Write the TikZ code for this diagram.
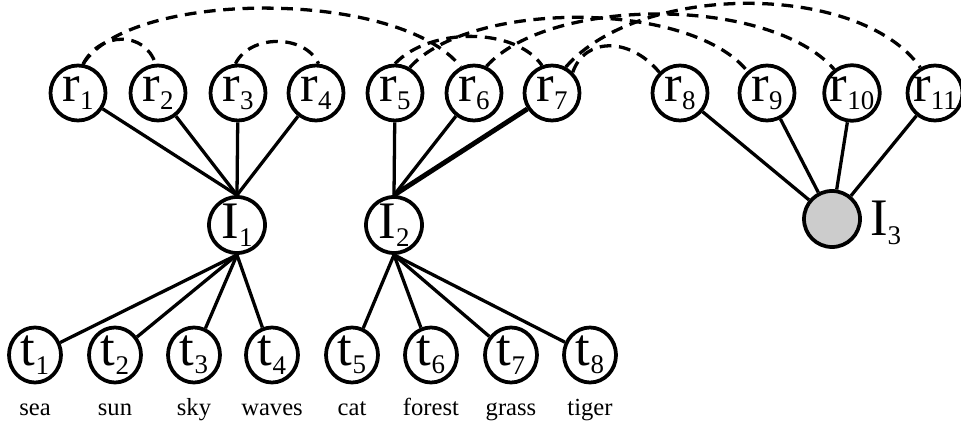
\documentclass[tikz,border=0pt]{standalone}
\usepackage{fontspec}
\setmainfont{Liberation Serif}
\usetikzlibrary{shapes.geometric}
\newcommand\nlab[2]{#1\raisebox{-0.16em}{\fontsize{23}{23}\selectfont #2}}
\begin{document}
\begin{tikzpicture}[x=0.03cm,y=-0.03cm,
  every node/.style={inner sep=0pt},
  rnode/.style={circle,draw,line width=3.2pt,minimum size=55*0.03cm,font=\fontsize{45}{45}\selectfont},
  tnode/.style={ellipse,draw,line width=3.2pt,minimum width=52*0.03cm,minimum height=55*0.03cm,font=\fontsize{45}{45}\selectfont},
  inode/.style={circle,draw,line width=3.2pt,minimum size=56*0.03cm,font=\fontsize{45}{45}\selectfont},
  word/.style={anchor=base,font=\fontsize{21}{21}\selectfont},
  edge/.style={line width=2.8pt},
  link/.style={line width=2.8pt,dash pattern=on 10pt off 6.5pt}]
\useasboundingbox (0,0) rectangle (961,430);
% r nodes
\node[rnode] (r1) at (78,93) {\nlab{r}{1}};
\node[rnode] (r2) at (158,93) {\nlab{r}{2}};
\node[rnode] (r3) at (238,93) {\nlab{r}{3}};
\node[rnode] (r4) at (316,93) {\nlab{r}{4}};
\node[rnode] (r5) at (395,93) {\nlab{r}{5}};
\node[rnode] (r6) at (474,93) {\nlab{r}{6}};
\node[rnode] (r7) at (552,93) {\nlab{r}{7}};
\node[rnode] (r8) at (680,93) {\nlab{r}{8}};
\node[rnode] (r9) at (767,93) {\nlab{r}{9}};
\node[rnode] (r10) at (852,93) {\nlab{r}{10}};
\node[rnode] (r11) at (935,93) {\nlab{r}{11}};
% I nodes
\node[inode] (I1) at (237,225) {\nlab{I}{1}};
\node[inode] (I2) at (394,225) {\nlab{I}{2}};
\node[inode,fill={rgb,255:red,204;green,204;blue,204}] (I3) at (832,219) {};
\node[anchor=west,font=\fontsize{45}{45}\selectfont] (I3l) at ([xshift=8*0.03cm,yshift=-4*0.03cm]I3.east) {\nlab{I}{3}};
% t nodes
\node[tnode] (t1) at (35,355) {\nlab{t}{1}};
\node[tnode] (t2) at (115,355) {\nlab{t}{2}};
\node[tnode] (t3) at (194,355) {\nlab{t}{3}};
\node[tnode] (t4) at (272,355) {\nlab{t}{4}};
\node[tnode] (t5) at (352,355) {\nlab{t}{5}};
\node[tnode] (t6) at (431,355) {\nlab{t}{6}};
\node[tnode] (t7) at (511,355) {\nlab{t}{7}};
\node[tnode] (t8) at (590,355) {\nlab{t}{8}};
% words
\node[word] (w1) at (35,415) {sea};
\node[word] (w2) at (115,415) {sun};
\node[word] (w3) at (194,415) {sky};
\node[word] (w4) at (272,415) {waves};
\node[word] (w5) at (352,415) {cat};
\node[word] (w6) at (431,415) {forest};
\node[word] (w7) at (511,415) {grass};
\node[word] (w8) at (590,415) {tiger};
% edges
\foreach \r in {r1,r2,r3,r4} \draw[edge] (\r) -- (I1.north);
\foreach \r in {r5,r6} \draw[edge] (\r) -- (I2.north);
\draw[line width=4.2pt] (r7) -- (I2.north);
\foreach \t in {t1,t2,t3,t4} \draw[edge] (I1.south) -- (\t);
\foreach \t in {t5,t6,t7,t8} \draw[edge] (I2.south) -- (\t);
\foreach \r in {r8,r9,r10,r11} \draw[edge] (\r) -- (I3);
% dashed links
\draw[link] (r1.80) .. controls (100,31) and (145,31) .. (r2.95);
\draw[link] (r1.80) .. controls (130,-11) and (400,-11) .. (r6.117);
\draw[link] (r3.95) .. controls (250,34) and (305,34) .. (r4.85);
\draw[link] (r5.90) .. controls (430,27) and (515,27) .. (r7.110);
\draw[link] (r5.60) .. controls (470,0) and (690,0) .. (r9.132);
\draw[link] (r6.65) .. controls (550,-4) and (770,-4) .. (r10.127);
\draw[link] (r7.45) .. controls (585,37) and (630,37) .. (r8.135);
\draw[link] (r7.62) .. controls (640,-18) and (860,-18) .. (r11.120);
\end{tikzpicture}
\end{document}
